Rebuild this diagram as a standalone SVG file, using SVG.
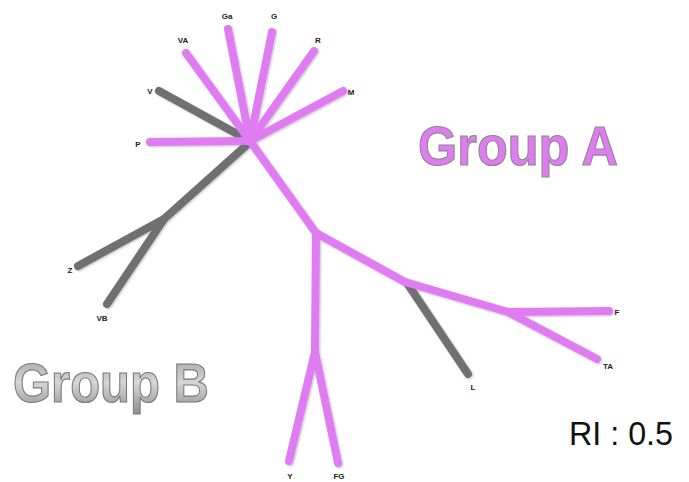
<svg xmlns="http://www.w3.org/2000/svg" width="689" height="482" viewBox="0 0 689 482">
<defs>
<linearGradient id="gb" x1="0" y1="0" x2="0" y2="1">
<stop offset="0" stop-color="#9c9c9c"/>
<stop offset="0.5" stop-color="#d6d6d6"/>
<stop offset="1" stop-color="#8e8e8e"/>
</linearGradient>
<filter id="sh" x="-10%" y="-10%" width="120%" height="120%">
<feDropShadow dx="1" dy="1" stdDeviation="0.8" flood-color="#000" flood-opacity="0.25"/>
</filter>
</defs>
<style>
.e{fill:none;stroke-width:8;stroke-linecap:round;stroke-linejoin:round}
.p{stroke:#e07cf2}
.g{stroke:#6f6f6f}
.lb{font-family:"Liberation Sans",Arial,sans-serif;font-weight:bold;font-size:8px;fill:#222;text-anchor:middle}
</style>
<rect width="689" height="482" fill="#fff"/>
<g id="connectors" filter="url(#sh)">
<path class="e g" d="M159,91 L250,141"/>
<path class="e g" d="M250,142 L164,219 L78,266"/>
<path class="e g" d="M164,219 L107,304"/>
<path class="e g" d="M407,283 L468,374"/>
<path class="e p" d="M228,29 L250,141"/>
<path class="e p" d="M272,32 L250,141"/>
<path class="e p" d="M186,53 L250,141"/>
<path class="e p" d="M314,51 L250,141"/>
<path class="e p" d="M343,91 L250,141"/>
<path class="e p" d="M150,142 L250,141"/>
<path class="e p" d="M250,141 L316,233 L405,282 L508,312 L609,311"/>
<path class="e p" d="M508,312 L597,359"/>
<path class="e p" d="M316,233 L315,352 L289,461"/>
<path class="e p" d="M315,352 L338,463"/>
</g>
<g id="node-Ga"><text class="lb" x="227" y="19">Ga</text></g>
<g id="node-G"><text class="lb" x="274" y="19">G</text></g>
<g id="node-VA"><text class="lb" x="183" y="43">VA</text></g>
<g id="node-R"><text class="lb" x="318" y="43">R</text></g>
<g id="node-M"><text class="lb" x="351" y="95">M</text></g>
<g id="node-V"><text class="lb" x="150" y="94">V</text></g>
<g id="node-P"><text class="lb" x="138" y="147">P</text></g>
<g id="node-Z"><text class="lb" x="70" y="273">Z</text></g>
<g id="node-VB"><text class="lb" x="102" y="321">VB</text></g>
<g id="node-L"><text class="lb" x="473" y="390">L</text></g>
<g id="node-F"><text class="lb" x="617" y="315">F</text></g>
<g id="node-TA"><text class="lb" x="608" y="369">TA</text></g>
<g id="node-Y"><text class="lb" x="290" y="479">Y</text></g>
<g id="node-FG"><text class="lb" x="339" y="479">FG</text></g>
<g id="group-a"><text x="418" y="165" font-family="'Liberation Sans',Arial,sans-serif" font-weight="bold" font-size="56" fill="#e07cf2" stroke="#8a8a8a" stroke-width="1.2" textLength="200" lengthAdjust="spacingAndGlyphs">Group A</text></g>
<g id="group-b"><text x="13" y="402" font-family="'Liberation Sans',Arial,sans-serif" font-weight="bold" font-size="56" fill="url(#gb)" stroke="#7a7a7a" stroke-width="1.2" textLength="196" lengthAdjust="spacingAndGlyphs">Group B</text></g>
<g id="ri"><text x="569" y="445" font-family="'Liberation Sans',Arial,sans-serif" font-size="34" fill="#111" textLength="104" lengthAdjust="spacingAndGlyphs">RI : 0.5</text></g>
</svg>
